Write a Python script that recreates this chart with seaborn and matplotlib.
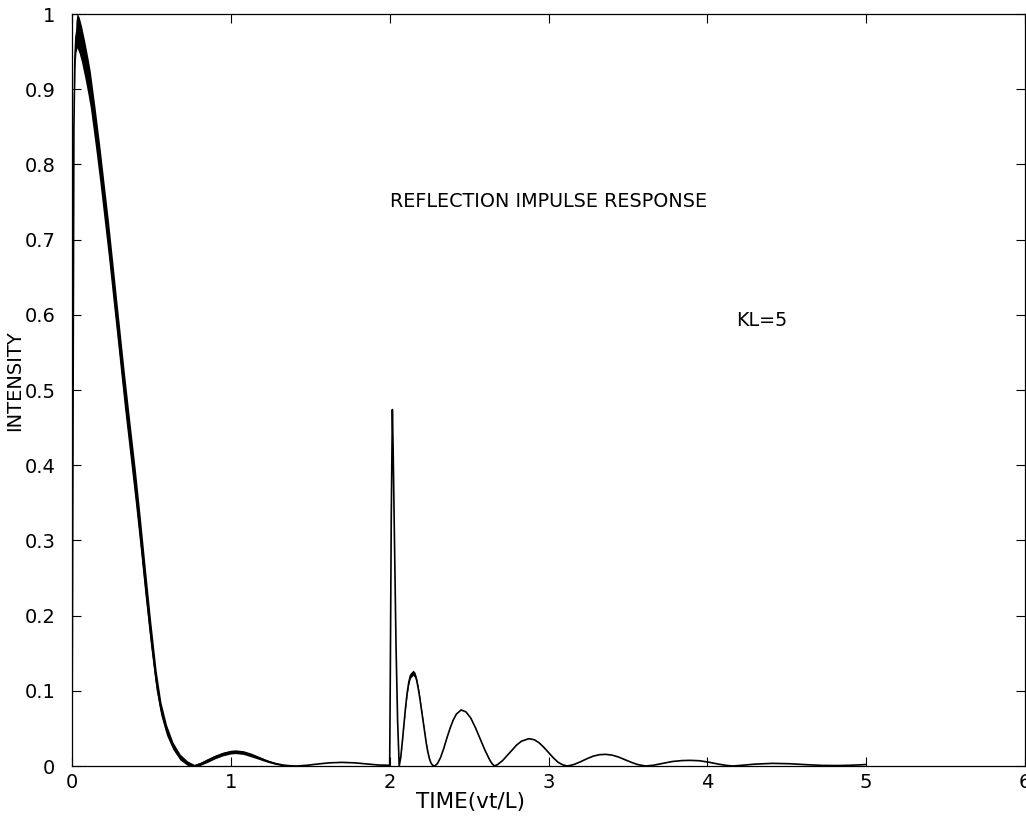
import numpy as np
import pandas as pd
import matplotlib
matplotlib.use("Agg")
import matplotlib.pyplot as plt
import seaborn as sns

# ---- data ----
# main decaying lobe (thick trace: fast oscillation band of half-width ripple)
main_t = [0.000, 0.004, 0.008, 0.012, 0.018, 0.025, 0.032, 0.045, 0.06, 0.08,
          0.10, 0.115, 0.145, 0.175, 0.20, 0.23, 0.255, 0.28, 0.305, 0.33,
          0.365, 0.40, 0.43, 0.46, 0.495, 0.53, 0.56, 0.595, 0.635, 0.68,
          0.725, 0.77]
main_y = [0.000, 0.30, 0.62, 0.85, 0.94, 0.970, 0.978, 0.972, 0.960, 0.940,
          0.918, 0.900, 0.852, 0.801, 0.755, 0.700, 0.650, 0.600, 0.550, 0.500,
          0.435, 0.370, 0.310, 0.247, 0.177, 0.114, 0.076, 0.048, 0.027, 0.012,
          0.004, 0.000]
main_r = [0, 0, 0, 0.004, 0.014, 0.021, 0.023, 0.024, 0.024, 0.024,
          0.024, 0.024, 0.024, 0.024, 0.024, 0.024, 0.024, 0.023, 0.023, 0.023,
          0.022, 0.022, 0.021, 0.020, 0.017, 0.013, 0.009, 0.007, 0.005, 0.004,
          0.003, 0.002]

# side lobes between 0.8 and 2
side_t = [0.81, 0.85, 0.90, 0.95, 1.00, 1.03, 1.08, 1.13, 1.18, 1.23, 1.28,
          1.33, 1.38, 1.42, 1.48, 1.55, 1.62, 1.70, 1.78, 1.86, 1.93, 2.00]
side_y = [0.003, 0.007, 0.012, 0.016, 0.0185, 0.019, 0.0178, 0.0145, 0.0105, 0.0065, 0.0033,
          0.0012, 0.0002, 0.000, 0.001, 0.0027, 0.0042, 0.0048, 0.0042, 0.0027, 0.0013, 0.001]
side_r = [0.002, 0.0025, 0.0025, 0.0025, 0.0025, 0.0025, 0.0025, 0.0025, 0.002, 0.0015, 0.0012,
          0.001, 0.0005, 0, 0, 0, 0, 0, 0, 0, 0, 0]

# sharp spike at t = 2
spike_t = [2.004, 2.010, 2.017, 2.022, 2.030, 2.040, 2.050, 2.060]
spike_y = [0.12, 0.33, 0.474, 0.42, 0.30, 0.16, 0.06, 0.000]
spike_r = [0, 0, 0, 0, 0, 0, 0, 0]

# first echo lobe
echo_t = [2.07, 2.08, 2.09, 2.10, 2.11, 2.12, 2.13, 2.147, 2.16, 2.17, 2.18,
          2.19, 2.20, 2.21, 2.22, 2.23, 2.24, 2.25, 2.26, 2.27, 2.283]
echo_y = [0.012, 0.033, 0.056, 0.078, 0.097, 0.111, 0.120, 0.124, 0.121, 0.114, 0.103,
          0.090, 0.075, 0.060, 0.045, 0.031, 0.019, 0.010, 0.004, 0.001, 0.000]
echo_r = [0.0005, 0.001, 0.0015, 0.002, 0.0025, 0.003, 0.0035, 0.0035, 0.0035, 0.003, 0.003,
          0.0025, 0.002, 0.002, 0.0015, 0.001, 0.001, 0.0005, 0, 0, 0]

# decaying tail lobes
tail_t = [2.30, 2.32, 2.34, 2.36, 2.38, 2.40, 2.42, 2.45, 2.48, 2.51, 2.54, 2.57, 2.60, 2.63, 2.645, 2.66,
          2.68, 2.71, 2.74, 2.77, 2.80, 2.83, 2.876, 2.91, 2.94, 2.97, 3.00, 3.03, 3.06, 3.09, 3.12,
          3.16, 3.20, 3.24, 3.28, 3.32, 3.36, 3.40, 3.44, 3.48, 3.52, 3.56, 3.61,
          3.66, 3.72, 3.78, 3.84, 3.89, 3.95, 4.01, 4.07, 4.12, 4.16,
          4.22, 4.30, 4.41, 4.52, 4.62, 4.72, 4.82, 4.90, 4.96, 5.00]
tail_y = [0.003, 0.011, 0.023, 0.037, 0.050, 0.061, 0.069, 0.0745, 0.072, 0.064, 0.051, 0.036, 0.021, 0.008, 0.003, 0.000,
          0.002, 0.007, 0.014, 0.021, 0.028, 0.033, 0.0363, 0.035, 0.031, 0.025, 0.018, 0.011, 0.005, 0.0015, 0.000,
          0.002, 0.0055, 0.0095, 0.013, 0.015, 0.0155, 0.0145, 0.012, 0.0085, 0.005, 0.002, 0.000,
          0.001, 0.0035, 0.006, 0.0072, 0.0075, 0.007, 0.005, 0.0025, 0.0008, 0.000,
          0.001, 0.0025, 0.0035, 0.003, 0.0018, 0.0008, 0.0006, 0.001, 0.0015, 0.002]

x_ticks = [0, 1, 2, 3, 4, 5, 6]
x_tick_labels = ["0", "1", "2", "3", "4", "5", "6"]
y_ticks = [0, 0.1, 0.2, 0.3, 0.4, 0.5, 0.6, 0.7, 0.8, 0.9, 1.0]
y_tick_labels = ["0", "0.1", "0.2", "0.3", "0.4", "0.5", "0.6", "0.7", "0.8", "0.9", "1"]

title_text = "REFLECTION IMPULSE RESPONSE"
param_text = "KL=5"

# ---- assemble ----
time = main_t + side_t + spike_t + echo_t + tail_t
intensity = main_y + side_y + spike_y + echo_y + tail_y
ripple = main_r + side_r + spike_r + echo_r + [0.0] * len(tail_t)
df = pd.DataFrame({"time": time, "intensity": intensity, "ripple": ripple})

# ---- figure ----
sns.set_style("ticks")
plt.rcParams['font.family'] = ['DejaVu Sans']
plt.rcParams['text.color'] = 'black'
plt.rcParams['axes.labelcolor'] = 'black'

fig = plt.figure(figsize=(10.26, 8.23), dpi=100)
W, H = 1026, 823
ax = fig.add_axes([72 / W, 1 - 766 / H, (1025 - 72) / W, (766 - 14) / H])

ax.fill_between(df["time"], df["intensity"] - df["ripple"], df["intensity"] + df["ripple"],
                color="black", linewidth=0)
sns.lineplot(data=df, x="time", y="intensity", color="black", linewidth=1.2,
             sort=False, estimator=None, ax=ax)

ax.set_xlim(0, 6)
ax.set_ylim(0, 1)
ax.set_xticks(x_ticks)
ax.set_xticklabels(x_tick_labels)
ax.set_yticks(y_ticks)
ax.set_yticklabels(y_tick_labels)
ax.tick_params(direction="in", top=True, right=True, length=6.5, width=0.8,
               labelsize=14, colors="black")
ax.tick_params(axis="y", pad=12)
ax.tick_params(axis="x", pad=5)
for s in ax.spines.values():
    s.set_visible(True)
    s.set_linewidth(0.9)
    s.set_color("black")

ax.set_xlabel("TIME(vt/L)", fontsize=15.5)
ax.set_ylabel("INTENSITY", fontsize=14)
ax.xaxis.set_label_coords((471 - 72) / 953, -0.035)
ax.yaxis.set_label_coords(-0.0505, 0.513)

ax.text(2.0, 0.751, title_text, fontsize=13.8, ha="left", va="center")
ax.text(4.18, 0.592, param_text, fontsize=13.8, ha="left", va="center")

fig.savefig("out.png", dpi=100)
